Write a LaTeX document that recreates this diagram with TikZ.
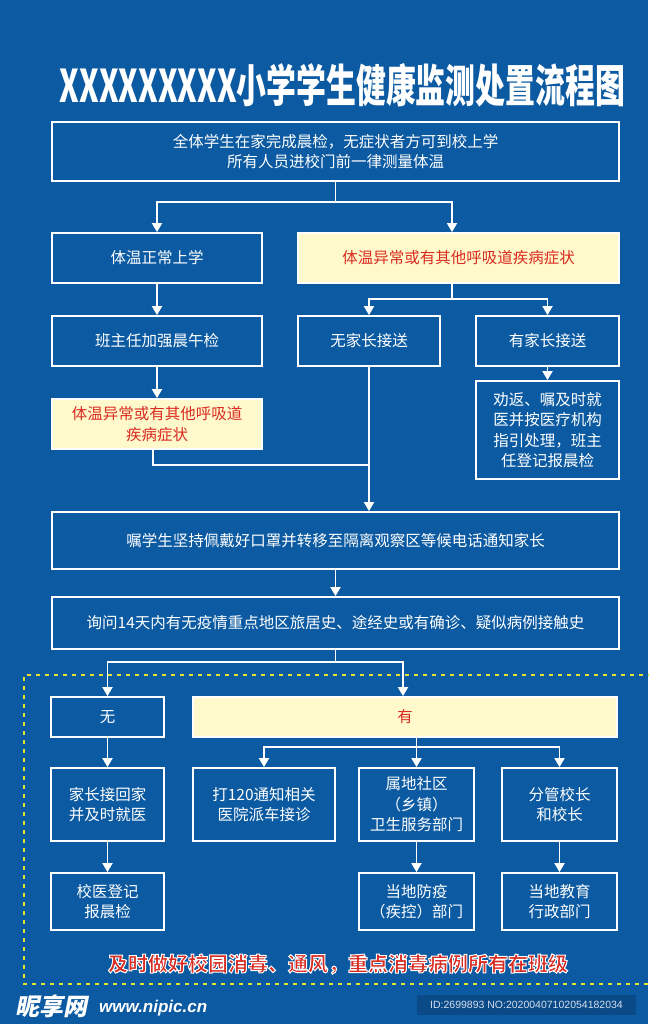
\documentclass[tikz,border=0pt]{standalone}
\usepackage{fontspec}
\setmainfont{Noto Sans CJK SC}
\newfontfamily\wmfont[FakeSlant=0.2]{Noto Sans CJK SC}
\newfontfamily\latinfont{Liberation Sans}
\usetikzlibrary{arrows.meta,calc}
\definecolor{bg}{HTML}{0B5AA2}
\definecolor{ylw}{HTML}{FFF9CC}
\definecolor{rd}{HTML}{D92B21}
\definecolor{dashy}{HTML}{E6E22E}
\definecolor{idbg}{HTML}{0A4A88}
\definecolor{idtxt}{HTML}{D5DEEA}
\newcommand{\outlinetext}[1]{\special{pdf:code 1 1 1 RG 1.0 w 2 Tr}#1\special{pdf:code 0 Tr}}
\begin{document}
\begin{tikzpicture}[x=1pt,y=-1pt,
  box/.style={draw=white, line width=1.8pt, text=white, font=\fontsize{15.5}{20.5}\selectfont, align=center, inner sep=0pt},
  ybox/.style={box, fill=ylw, text=rd},
  conn/.style={draw=white, line width=1.8pt},
  arr/.style={conn, -{Triangle[length=9pt,width=10pt]}},
  note/.style={font=\bfseries\fontsize{20}{20}\selectfont}
]
\fill[bg] (0,0) rectangle (648,1024);
\useasboundingbox (0,0) rectangle (648,1024);

% title
\node[text=white, font=\bfseries\fontsize{42}{42}\selectfont, inner sep=0pt] (title) at (342.5,85)
  {\resizebox{565pt}{39pt}{XXXXXXXXX小学学生健康监测处置流程图}};

% boxes
\node[box, minimum width=567pt, minimum height=59pt] (top) at (335.5,151.5)
  {全体学生在家完成晨检，无症状者方可到校上学\\所有人员进校门前一律测量体温};
\node[box, minimum width=210pt, minimum height=50pt] (normal) at (157,258) {体温正常上学};
\node[ybox, minimum width=321pt, minimum height=50pt] (abn) at (458.5,258) {体温异常或有其他呼吸道疾病症状};
\node[box, minimum width=210pt, minimum height=50pt] (cls) at (157,341) {班主任加强晨午检};
\node[box, minimum width=142pt, minimum height=50pt] (nop) at (369,341) {无家长接送};
\node[box, minimum width=143pt, minimum height=50pt] (yesp) at (547.5,341) {有家长接送};
\node[ybox, minimum width=210pt, minimum height=50pt] (abn2) at (157,424) {体温异常或有其他呼吸道\\疾病症状};
\node[box, minimum width=143pt, minimum height=98pt] (adv) at (547.5,430)
  {劝返、嘱及时就\\医并按医疗机构\\指引处理，班主\\任登记报晨检};
\node[box, minimum width=567pt, minimum height=57pt] (mask) at (335.5,540.5)
  {嘱学生坚持佩戴好口罩并转移至隔离观察区等候电话通知家长};
\node[box, minimum width=567pt, minimum height=52pt] (ask) at (335.5,623)
  {询问14天内有无疫情重点地区旅居史、途经史或有确诊、疑似病例接触史};
\node[box, minimum width=113pt, minimum height=40pt] (no) at (107.5,717) {无};
\node[ybox, minimum width=424pt, minimum height=40pt] (yes) at (405,717) {有};
\node[box, minimum width=113pt, minimum height=73pt] (home) at (107.5,804.5) {家长接回家\\并及时就医};
\node[box, minimum width=142pt, minimum height=73pt] (call) at (264,804.5) {打120通知相关\\医院派车接诊};
\node[box, minimum width=115pt, minimum height=73pt] (comm) at (416.5,804.5) {属地社区\\（乡镇）\\卫生服务部门};
\node[box, minimum width=115pt, minimum height=73pt] (head) at (559.5,804.5) {分管校长\\和校长};
\node[box, minimum width=113pt, minimum height=57pt] (reg) at (107.5,901.5) {校医登记\\报晨检};
\node[box, minimum width=115pt, minimum height=57pt] (cdc) at (416.5,901.5) {当地防疫\\（疾控）部门};
\node[box, minimum width=115pt, minimum height=57pt] (edu) at (559.5,901.5) {当地教育\\行政部门};

% connectors
\coordinate (s1) at (335.5,202);
\draw[conn] (top.south) -- (s1);
\draw[arr] (s1) -| (normal.north);
\draw[arr] (s1) -| ([xshift=-6.5pt]abn.north);
\coordinate (s2) at (452,299);
\draw[conn] ([xshift=-6.5pt]abn.south) -- (s2);
\draw[arr] (s2) -| (nop.north);
\draw[arr] (s2) -| (yesp.north);
\draw[arr] (normal.south) -- (cls.north);
\draw[arr] (cls.south) -- (abn2.north);
\draw[arr] (yesp.south) -- (adv.north);
\coordinate (m1) at (369,465);
\draw[conn] ([xshift=-4pt]abn2.south) |- (m1);
\draw[arr] (nop.south) -- (nop.south |- mask.north);
\draw[arr] (mask.south) -- (ask.north);
\coordinate (s3) at (335.5,662);
\draw[conn] (ask.south) -- (s3);
\draw[arr] (s3) -| (no.north);
\draw[arr] (s3) -| ([xshift=-2pt]yes.north);
\coordinate (s4) at (416.5,747);
\draw[conn] (yes.south -| comm.north) -- (s4);
\draw[arr] (s4) -| (call.north);
\draw[arr] (s4) -- (comm.north);
\draw[arr] (s4) -| (head.north);
\draw[arr] (no.south) -- (home.north);
\draw[arr] (home.south) -- (reg.north);
\draw[arr] (comm.south) -- (cdc.north);
\draw[arr] (head.south) -- (edu.north);

% dashed frame
\draw[dashy, line width=2.2pt, dash pattern=on 4pt off 5pt] (652,675) -- (24,675) -- (24,984) -- (652,984);

% bottom note with white outline
\node[note, text=rd] (notetxt) at (338,964) {\outlinetext{及时做好校园消毒、通风，重点消毒病例所有在班级}};

% watermark
\node[anchor=west, text=white, font=\wmfont\bfseries\fontsize{24}{24}\selectfont, inner sep=0pt] (wm1) at (15,1006) {昵享网};
\node[anchor=west, text=white, font=\latinfont\bfseries\itshape\fontsize{17}{17}\selectfont, inner sep=0pt] (wm2) at (99,1008) {www.nipic.cn};
\fill[idbg] (417,995) rectangle (636,1015);
\node[text=idtxt, font=\latinfont\fontsize{10.5}{11}\selectfont, inner sep=0pt] (wm3) at (526.5,1005) {ID:2699893 NO:20200407102054182034};
\end{tikzpicture}
\end{document}
